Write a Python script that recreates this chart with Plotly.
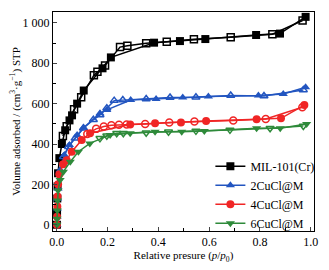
import plotly.graph_objects as go

# MIL-101(Cr)
mil_ads_x = [0.0005, 0.001, 0.002, 0.003, 0.005, 0.01, 0.02, 0.033, 0.05, 0.06, 0.08, 0.106, 0.18, 0.213, 0.383, 0.485, 0.585, 0.785, 0.879, 0.98]
mil_ads_y = [0, 60, 130, 190, 255, 330, 400, 468, 517, 542, 600, 665, 775, 829, 902, 910, 920, 940, 947, 1030]
mil_des_x = [0.968, 0.849, 0.685, 0.54, 0.433, 0.352, 0.278, 0.249, 0.19, 0.16, 0.146, 0.096, 0.068, 0.039, 0.024]
mil_des_y = [1012, 944, 929, 919, 907, 899, 887, 880, 789, 758, 741, 632, 572, 488, 440]

# 2CuCl@M
c2_ads_x = [0.0005, 0.001, 0.002, 0.003, 0.005, 0.013, 0.03, 0.05, 0.08, 0.105, 0.17, 0.197, 0.291, 0.391, 0.496, 0.597, 0.794, 0.892, 0.98]
c2_ads_y = [0, 40, 80, 130, 180, 271, 345, 395, 445, 481, 552, 569, 618, 623, 630, 635, 640, 648, 681]
c2_des_x = [0.971, 0.816, 0.685, 0.548, 0.446, 0.352, 0.26, 0.226, 0.197, 0.17, 0.144, 0.105, 0.072, 0.046, 0.026]
c2_des_y = [668, 638, 640, 632, 630, 623, 618, 615, 577, 544, 520, 478, 428, 387, 337]

# 4CuCl@M
c4_ads_x = [0.0005, 0.001, 0.002, 0.003, 0.005, 0.01, 0.025, 0.039, 0.059, 0.098, 0.131, 0.289, 0.387, 0.489, 0.588, 0.787, 0.883, 0.975]
c4_ads_y = [0, 40, 90, 140, 200, 250, 300, 320, 362, 420, 453, 497, 503, 506, 514, 523, 527, 593]
c4_des_x = [0.967, 0.823, 0.695, 0.542, 0.443, 0.348, 0.275, 0.245, 0.215, 0.185, 0.155, 0.12]
c4_des_y = [582, 524, 516, 511, 506, 499, 497, 495, 493, 487, 475, 450]

# 6CuCl@M
c6_ads_x = [0.0005, 0.001, 0.002, 0.003, 0.005, 0.013, 0.026, 0.053, 0.085, 0.13, 0.21, 0.289, 0.387, 0.492, 0.581, 0.787, 0.88, 0.984]
c6_ads_y = [0, 30, 70, 120, 170, 222, 263, 312, 362, 403, 445, 453, 461, 461, 465, 478, 478, 499]
c6_des_x = [0.971, 0.84, 0.682, 0.548, 0.44, 0.352, 0.262, 0.236, 0.197, 0.17]
c6_des_y = [489, 478, 470, 465, 461, 456, 453, 453, 441, 428]

names = ["MIL-101(Cr)", "2CuCl@M", "4CuCl@M", "6CuCl@M"]
colors = ["#000000", "#2255c0", "#f02525", "#2e8a3a"]
symbols = ["square", "triangle-up", "circle", "triangle-down"]
ads = [(mil_ads_x, mil_ads_y), (c2_ads_x, c2_ads_y), (c4_ads_x, c4_ads_y), (c6_ads_x, c6_ads_y)]
des = [(mil_des_x, mil_des_y), (c2_des_x, c2_des_y), (c4_des_x, c4_des_y), (c6_des_x, c6_des_y)]

fig = go.Figure()
for i in range(4):
    fig.add_trace(go.Scatter(
        x=des[i][0], y=des[i][1], mode="lines+markers", showlegend=False,
        line=dict(color=colors[i], width=1.5),
        marker=dict(symbol=symbols[i] + "-open", size=7, color=colors[i], line=dict(width=1.5, color=colors[i]))))
    fig.add_trace(go.Scatter(
        x=ads[i][0], y=ads[i][1], mode="lines+markers", name=names[i],
        line=dict(color=colors[i], width=1.5),
        marker=dict(symbol=symbols[i], size=8, color=colors[i])))

font = "Liberation Serif"
fig.update_layout(
    width=321, height=262,
    margin=dict(l=45, r=15, t=4, b=39, autoexpand=False),
    paper_bgcolor="white", plot_bgcolor="white",
    font=dict(family=font, size=12, color="black"),
    legend=dict(x=0.603, y=0.362, xanchor="left", yanchor="top", bgcolor="rgba(0,0,0,0)",
                font=dict(size=12, family=font), itemwidth=30, tracegroupgap=0),
    xaxis=dict(range=[-0.015, 1.013], tickvals=[0, 0.2, 0.4, 0.6, 0.8, 1.0],
               ticktext=["0.0", "0.2", "0.4", "0.6", "0.8", "1.0"],
               ticks="inside", ticklen=4, tickwidth=1, showline=True, linecolor="black", linewidth=1,
               mirror=True, showgrid=False, zeroline=False, automargin=False,
               minor=dict(dtick=0.1, ticks="inside", ticklen=3, tickcolor="black"),
               title=dict(text="Relative presure (<i>p</i>/<i>p</i><sub>0</sub>)", standoff=2, font=dict(size=11))),
    yaxis=dict(range=[-31, 1054], tickvals=[0, 200, 400, 600, 800, 1000],
               ticktext=["0", "200", "400", "600", "800", "1 000"],
               ticks="inside", ticklen=4, tickwidth=1, showline=True, linecolor="black", linewidth=1,
               mirror=True, showgrid=False, zeroline=False, automargin=False,
               minor=dict(dtick=100, ticks="inside", ticklen=3, tickcolor="black"),
               title=dict(text="Volume adsorbed / (cm<sup>3</sup>·g<sup>−1</sup>) STP", standoff=4, font=dict(size=11))),
)
fig.write_html("out.html")
